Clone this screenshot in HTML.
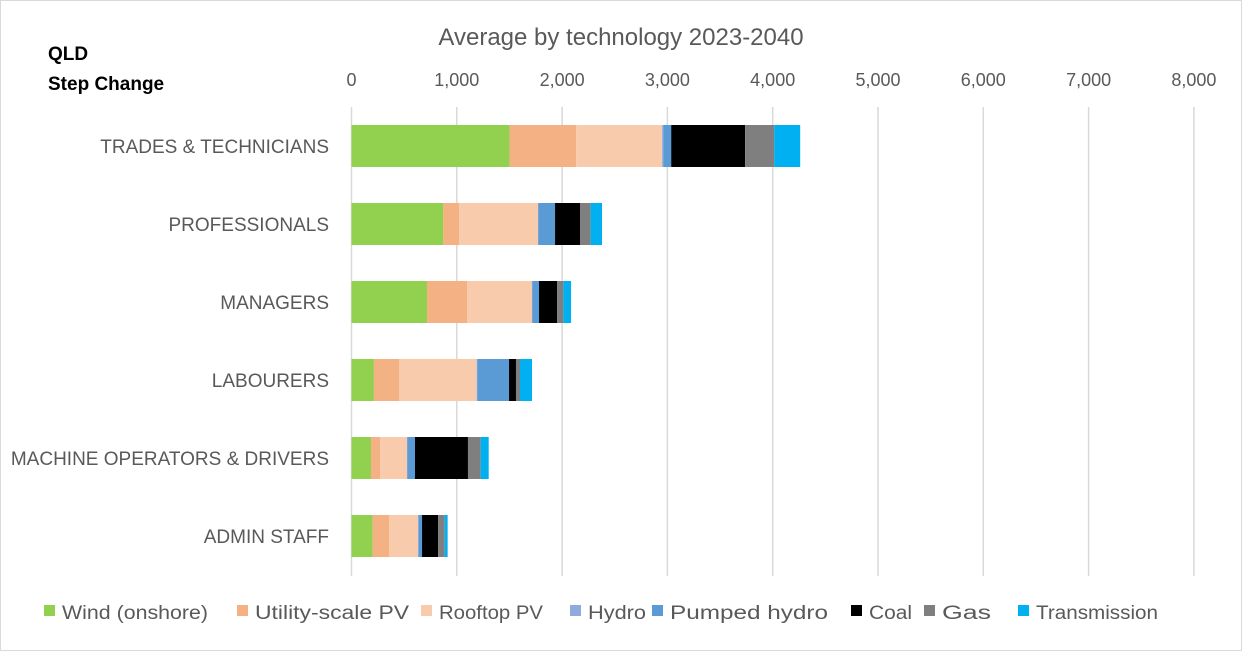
<!DOCTYPE html>
<html><head><meta charset="utf-8"><style>
body{margin:0;background:#fff}
svg text{font-family:"Liberation Sans",sans-serif}
</style></head><body>
<svg id="chart" width="1242" height="651" xmlns="http://www.w3.org/2000/svg">
<rect x="0.5" y="0.5" width="1241" height="650" fill="#fff" stroke="#d9d9d9"/>
<text x="621" y="45" text-anchor="middle" font-size="24" fill="#595959">Average by technology 2023-2040</text>
<text x="48" y="60" font-size="19" font-weight="bold" fill="#000">QLD</text>
<text x="48" y="90" font-size="19" font-weight="bold" fill="#000">Step Change</text>
<g id="grid"></g><g id="xticks"></g><g id="bars"></g><g id="ylabels"></g><g id="legend"></g>
</svg>
<script>
const categories=["TRADES & TECHNICIANS","PROFESSIONALS","MANAGERS","LABOURERS","MACHINE OPERATORS & DRIVERS","ADMIN STAFF"];
const seriesNames=["Wind (onshore)","Utility-scale PV","Rooftop PV","Hydro","Pumped hydro","Coal","Gas","Transmission"];
const wind=[1500,872,717,213,185,201];
const utilityPV=[633,149,380,238,86,155];
const rooftopPV=[817,750,617,738,256,276];
const hydro=[10,5,5,5,5,5];
const pumpedHydro=[76,157,62,302,71,33];
const coal=[702,237,171,66,503,152];
const gas=[276,101,60,38,121,63];
const transmission=[247,108,73,114,76,28];
const xTicks=[0,1000,2000,3000,4000,5000,6000,7000,8000];
const tickLabels=["0","1,000","2,000","3,000","4,000","5,000","6,000","7,000","8,000"];
const colors=["#92d050","#f4b183","#f8cbad","#8faadc","#5b9bd5","#000000","#7f7f7f","#00b0f0"];
const series=[wind,utilityPV,rooftopPV,hydro,pumpedHydro,coal,gas,transmission];
const NS="http://www.w3.org/2000/svg";
const x0=351.5,pxPer=105.3/1000,plotTop=107,plotBottom=576,step=78,barH=42;
const X=v=>x0+v*pxPer;
const Y=i=>plotTop+39+i*step;
function mk(tag,attrs,parent){const e=document.createElementNS(NS,tag);for(const k in attrs)e.setAttribute(k,attrs[k]);parent.appendChild(e);return e;}
const grid=document.getElementById('grid'),xt=document.getElementById('xticks'),bars=document.getElementById('bars'),yl=document.getElementById('ylabels'),lg=document.getElementById('legend');
xTicks.forEach((t,i)=>{
 const l=mk('line',{x1:X(t),x2:X(t),y1:plotTop,y2:plotBottom,stroke:'#d9d9d9','stroke-width':1.5},grid);
 
 
 const tx=mk('text',{x:X(t),y:86,'text-anchor':'middle','font-size':18,fill:'#595959'},xt);
 tx.textContent=tickLabels[i];
 
 
});
categories.forEach((c,i)=>{
 let acc=0;
 series.forEach((s,j)=>{
  const r=mk('rect',{x:X(acc),y:Y(i)-barH/2,width:Math.max(0,X(acc+s[i])-X(acc)),height:barH,fill:colors[j]},bars);
  
  
  acc+=s[i];
 });
 const t=mk('text',{x:329,y:Y(i)+7,'text-anchor':'end','font-size':19,fill:'#595959'},yl);
 t.textContent=c;
 
 
});
const legX=[44,237,421,570,652,851,924,1018];
const legW=[146,154,104,58,158,43,49,122];
seriesNames.forEach((n,j)=>{
 const g=mk('g',{},lg);
 
 
 mk('rect',{x:legX[j],y:605,width:11,height:11,fill:colors[j]},g);
 const t=mk('text',{x:legX[j]+18,y:619,'font-size':19,fill:'#595959',textLength:legW[j],lengthAdjust:'spacingAndGlyphs'},g);
 t.textContent=n;
});
</script>
</body></html>
